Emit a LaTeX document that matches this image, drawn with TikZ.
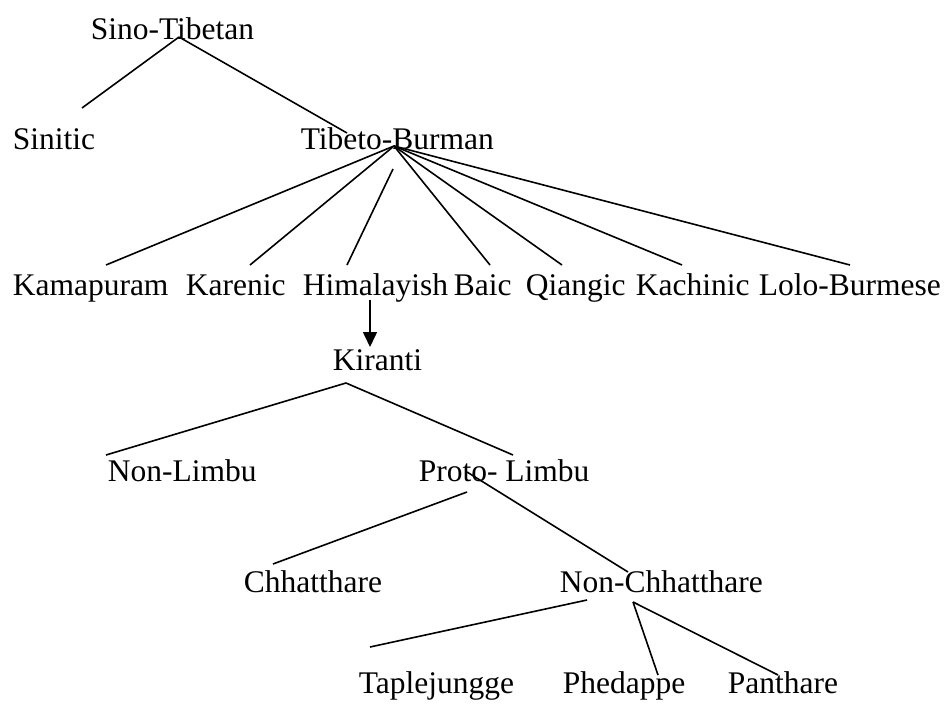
\documentclass[tikz,border=0pt]{standalone}
\usepackage{fontspec}
\setmainfont{Liberation Serif}
\usetikzlibrary{arrows.meta}

\begin{document}
\begin{tikzpicture}[x=1pt, y=-1pt, line width=1.6pt,
  lang/.style={anchor=base west, inner sep=0pt, font=\fontsize{31.5}{37}\selectfont}]
  \useasboundingbox (0,0) rectangle (944,708);
  % first split
  \node[lang] (st)  at (90,40)   {Sino-Tibetan};
  \node[lang] (sin) at (12,150)  {Sinitic};
  \node[lang] (tb)  at (300,150) {Tibeto-Burman};
  \draw ([shift={(89,-3)}]st.base west) -- ([shift={(70,-42)}]sin.base west);
  \draw ([shift={(89,-3)}]st.base west) -- ([shift={(47,-17)}]tb.base west);
  % Tibeto-Burman branches
  \node[lang] (kam)  at (12,295)  {Kamapuram};
  \node[lang] (kar)  at (185,295) {Karenic};
  \node[lang] (him)  at (302,295) {Himalayish};
  \node[lang] (baic) at (453,295) {Baic};
  \node[lang] (qia)  at (525,295) {Qiangic};
  \node[lang] (kac)  at (635,295) {Kachinic};
  \node[lang] (lolo) at (758,295) {Lolo-Burmese};
  \draw ([shift={(94,-4)}]tb.base west) -- ([shift={(94,-30)}]kam.base west);
  \draw ([shift={(94,-4)}]tb.base west) -- ([shift={(65,-30)}]kar.base west);
  \draw ([shift={(93,19)}]tb.base west) -- ([shift={(45,-30)}]him.base west);
  \draw ([shift={(94,-4)}]tb.base west) -- ([shift={(37,-30)}]baic.base west);
  \draw ([shift={(94,-4)}]tb.base west) -- ([shift={(37,-30)}]qia.base west);
  \draw ([shift={(94,-4)}]tb.base west) -- ([shift={(47,-30)}]kac.base west);
  \draw ([shift={(94,-4)}]tb.base west) -- ([shift={(92,-30)}]lolo.base west);
  % Himalayish down to Kiranti
  \node[lang] (kir) at (332,370) {Kiranti};
  \draw[-{Triangle[length=15pt,width=14pt]}] ([shift={(68,5)}]him.base west) -- ([shift={(38,-23)}]kir.base west);
  \node[lang] (nlim) at (107,481) {Non-Limbu};
  \node[lang] (plim) at (418,481) {Proto- Limbu};
  \draw ([shift={(14,13)}]kir.base west) -- ([shift={(-1,-26)}]nlim.base west);
  \draw ([shift={(14,13)}]kir.base west) -- ([shift={(95,-26)}]plim.base west);
  % Proto-Limbu
  \node[lang] (chh)  at (243,592) {Chhatthare};
  \node[lang] (nchh) at (559,592) {Non-Chhatthare};
  \draw ([shift={(49,11)}]plim.base west) -- ([shift={(30,-28)}]chh.base west);
  \draw ([shift={(49,-9)}]plim.base west) -- ([shift={(69,-20)}]nchh.base west);
  % Non-Chhatthare
  \node[lang] (tap) at (358,693) {Taplejungge};
  \node[lang] (phe) at (562,693) {Phedappe};
  \node[lang] (pan) at (727,693) {Panthare};
  \draw ([shift={(28,8)}]nchh.base west) -- ([shift={(12,-46)}]tap.base west);
  \draw ([shift={(74,10)}]nchh.base west) -- ([shift={(96,-18)}]phe.base west);
  \draw ([shift={(74,10)}]nchh.base west) -- ([shift={(51,-18)}]pan.base west);
\end{tikzpicture}
\end{document}
